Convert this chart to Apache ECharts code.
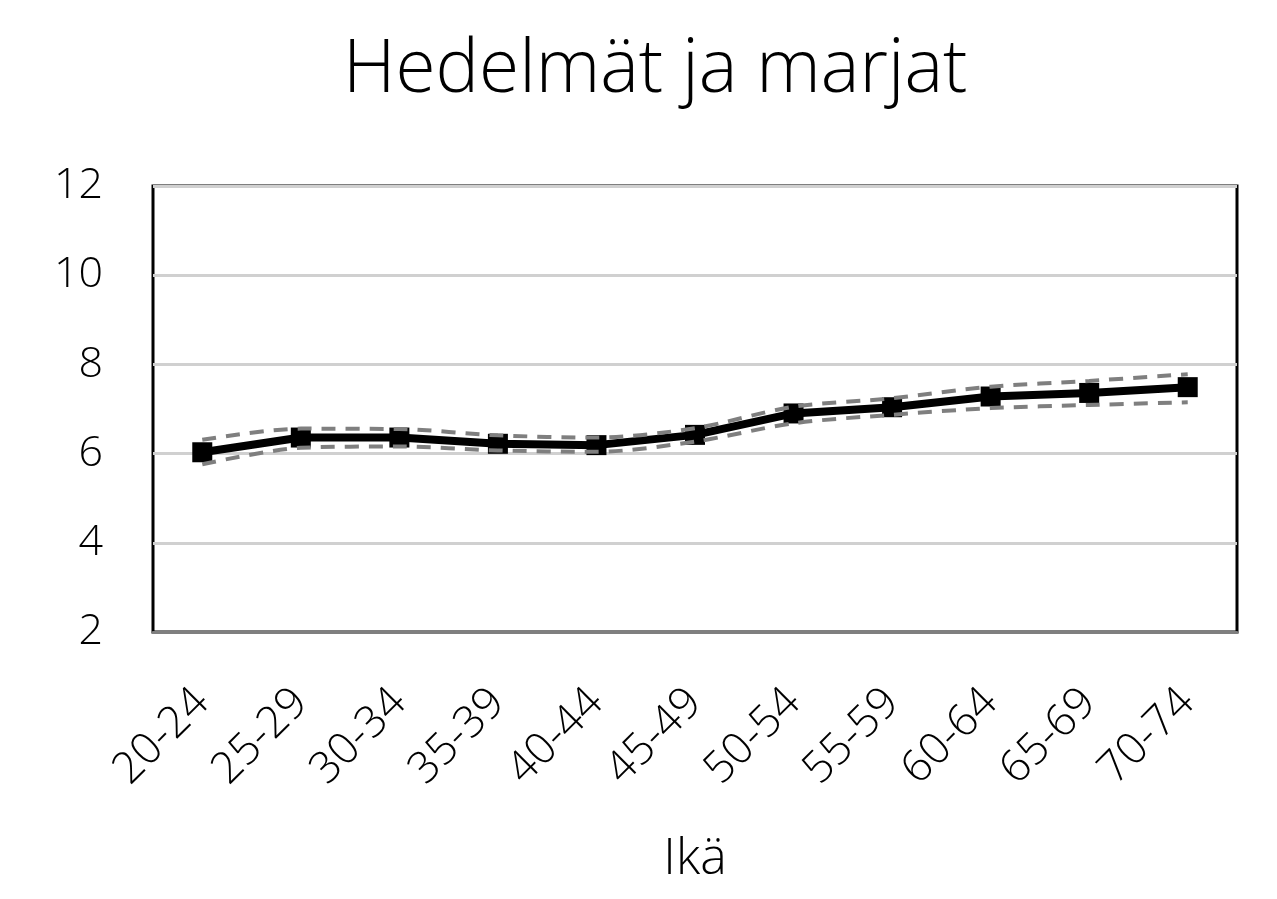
<!DOCTYPE html>
<html>
<head>
<meta charset="utf-8">
<script src="https://cdn.jsdelivr.net/npm/echarts@6/dist/echarts.min.js"></script>
<style>
  html, body { margin: 0; padding: 0; background: #fff; }
  #chart { width: 1277px; height: 899px; }
</style>
</head>
<body>
<div id="chart"></div>
<script>
var categories = ['20-24', '25-29', '30-34', '35-39', '40-44', '45-49', '50-54', '55-59', '60-64', '65-69', '70-74'];
var meanValues = [6.03, 6.36, 6.36, 6.22, 6.19, 6.42, 6.90, 7.04, 7.28, 7.36, 7.49];
var upperValues = [6.31, 6.56, 6.55, 6.41, 6.36, 6.57, 7.05, 7.24, 7.50, 7.63, 7.78];
var lowerValues = [5.76, 6.13, 6.16, 6.07, 6.04, 6.27, 6.68, 6.87, 7.02, 7.09, 7.15];
var yTicks = [2, 4, 6, 8, 10, 12];

var font = '"Open Sans", sans-serif';

var dashed = {
    type: 'line',
    smooth: 0.3,
    symbol: 'none',
    lineStyle: { color: '#7f7f7f', width: 4, type: [14, 10] },
    z: 3
};

var option = {
    animation: false,
    backgroundColor: '#fff',
    title: {
        text: 'Hedelmät ja marjat',
        left: 338,
        top: 30,
        textStyle: { fontFamily: font, fontWeight: 300, fontSize: 73, color: '#000' }
    },
    grid: {
        left: 153, right: 40, top: 186, bottom: 267,
        show: true, borderColor: '#000', borderWidth: 3
    },
    xAxis: {
        type: 'category',
        data: categories,
        name: 'Ikä',
        nameLocation: 'middle',
        nameGap: 203,
        nameTextStyle: { fontFamily: font, fontWeight: 300, fontSize: 50, color: '#000' },
        axisLine: { lineStyle: { color: '#7f7f7f', width: 3 } },
        axisTick: { show: false },
        axisLabel: { rotate: 45, margin: 64, fontFamily: font, fontWeight: 300, fontSize: 44, color: '#000' }
    },
    yAxis: {
        type: 'value',
        min: yTicks[0],
        max: yTicks[yTicks.length - 1],
        interval: 2,
        axisLine: { show: false },
        axisTick: { show: false },
        axisLabel: { margin: 50, fontFamily: font, fontWeight: 300, fontSize: 43, color: '#000' },
        splitLine: { lineStyle: { color: '#d0d0d0', width: 3 } }
    },
    series: [
        {
            name: 'mean',
            type: 'line',
            data: meanValues,
            symbol: 'rect',
            symbolSize: 20,
            itemStyle: { color: '#000' },
            lineStyle: { color: '#000', width: 8 },
            z: 2
        },
        Object.assign({ name: 'upper', data: upperValues }, dashed),
        Object.assign({ name: 'lower', data: lowerValues }, dashed)
    ]
};

var myChart = echarts.init(document.getElementById('chart'));
myChart.setOption(option);
</script>
</body>
</html>
